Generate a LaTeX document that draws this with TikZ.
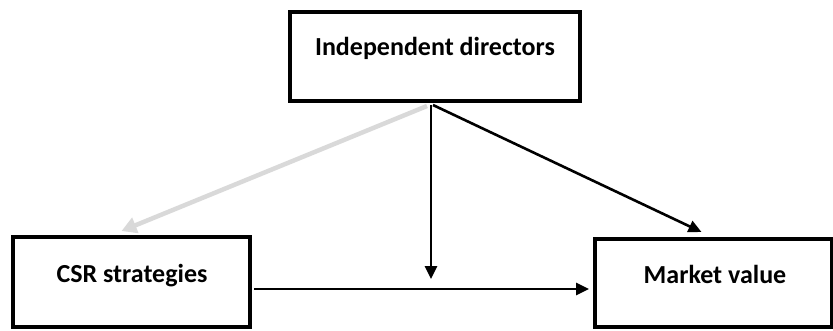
\documentclass[tikz,border=0pt]{standalone}
\usepackage{fontspec}
\setmainfont{Carlito}
\usetikzlibrary{arrows.meta,calc}
\definecolor{lightgrayarrow}{HTML}{D9D9D9}
\tikzset{
  box/.style={draw=black, line width=4pt, fill=white, inner sep=0pt},
  lbl/.style={anchor=base, inner sep=0pt, font=\fontsize{26}{30}\selectfont\bfseries},
  blackarrow/.style={line width=2.6pt, -{Triangle[length=13pt,width=12pt]}},
  grayarrow/.style={draw=lightgrayarrow, line width=4.5pt, -{Triangle[length=15pt,width=16pt]}}
}
\begin{document}
\begin{tikzpicture}[x=1pt,y=-1pt]
\useasboundingbox (0,0) rectangle (833,330);
% boxes
\node[box, minimum width=290pt, minimum height=89pt] (dir) at (435,56.5) {};
\node[box, minimum width=237pt, minimum height=90pt] (csr) at (131.5,282) {};
\node[box, minimum width=237pt, minimum height=88pt] (mv) at (713.5,283) {};
% labels
\node[lbl] (dirtxt) at (435,55) {Independent directors};
\node[lbl] (csrtxt) at (132,282) {CSR strategies};
\node[lbl] (mvtxt) at (715,283) {Market value};
% moderation point
\coordinate (mod) at (431,279);
% arrows
\draw[grayarrow] ($(dir.south)+(-8,3)$) -- ($(csr.north)+(-10,-4)$);
\draw[blackarrow] ($(dir.south)+(-4,2)$) -- (mod);
\draw[blackarrow] ($(dir.south)+(-2,2)$) -- ($(mv.north)+(-12,-5)$);
\draw[blackarrow] ($(csr.east)+(2,7)$) -- ($(mv.west)+(-4,6)$);
\end{tikzpicture}
\end{document}
